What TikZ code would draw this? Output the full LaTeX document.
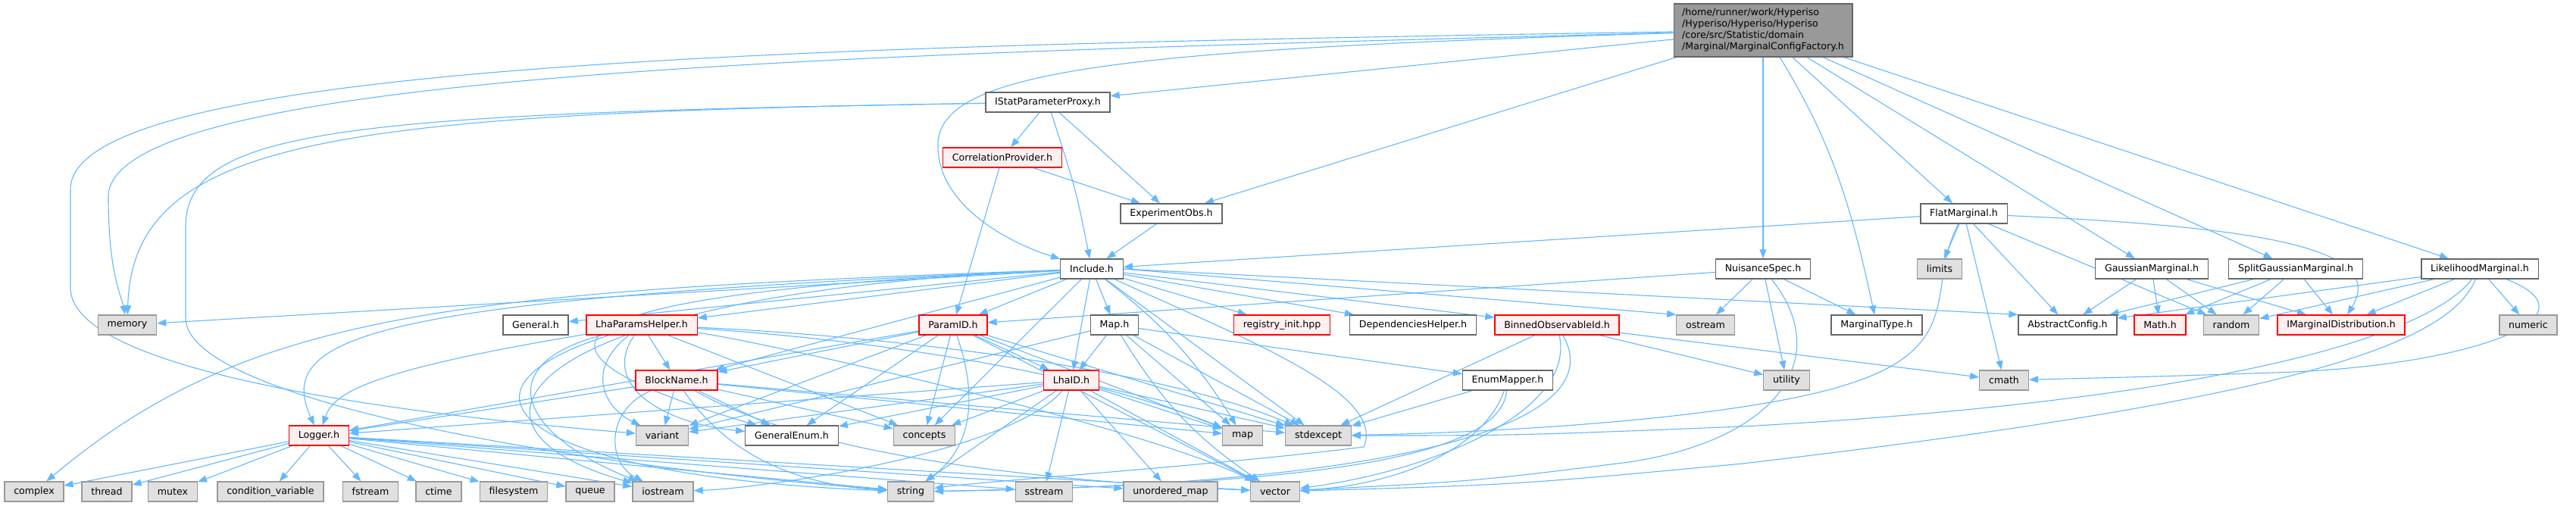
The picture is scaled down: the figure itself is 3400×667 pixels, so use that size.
\documentclass[tikz,border=0pt]{standalone}
\usepackage{fontspec}
\setmainfont{DejaVu Sans}
\usetikzlibrary{arrows.meta}
\pgfdeclarelayer{background}
\pgfsetlayers{background,main}
\definecolor{edgec}{HTML}{63B8FF}
\definecolor{wborder}{HTML}{666666}
\definecolor{gfill}{HTML}{E0E0E0}
\definecolor{gborder}{HTML}{999999}
\definecolor{rfill}{HTML}{FFF0F0}
\definecolor{rborder}{HTML}{FF0000}
\definecolor{tfill}{HTML}{999999}
\tikzset{
  base/.style={rectangle, line width=1.3pt, inner xsep=12.3pt, inner ysep=2pt, minimum height=26pt, font=\fontsize{12.6}{15}\selectfont, text=black},
  wn/.style={base, draw=wborder, fill=white},
  gn/.style={base, draw=gborder, fill=gfill},
  rn/.style={base, draw=rborder, fill=rfill},
  topn/.style={base, draw=wborder, fill=tfill, align=left, minimum height=70pt, inner xsep=11pt},
  e/.style={draw=edgec, line width=1.1pt, -{Triangle[length=12pt,width=9pt]}}
}
\begin{document}
\begin{tikzpicture}[x=1pt,y=-1pt]
\useasboundingbox (0,0) rectangle (3400,667);
% nodes
\node[topn] (mcf) at (2327,40) {/home/runner/work/Hyperiso\\/Hyperiso/Hyperiso/Hyperiso\\/core/src/Statistic/domain\\/Marginal/MarginalConfigFactory.h};
\node[wn] (ispp) at (1383,135) {IStatParameterProxy.h};
\node[rn] (corr) at (1323,208) {CorrelationProvider.h};
\node[wn] (expobs) at (1546,282) {ExperimentObs.h};
\node[wn] (flat) at (2592,282) {FlatMarginal.h};
\node[wn] (include) at (1441,355) {Include.h};
\node[wn] (nuis) at (2327,355) {NuisanceSpec.h};
\node[gn] (limits) at (2560,355) {limits};
\node[wn] (gauss) at (2840,355) {GaussianMarginal.h};
\node[wn] (split) at (3030,355) {SplitGaussianMarginal.h};
\node[wn] (lik) at (3273,355) {LikelihoodMarginal.h};
\node[gn] (memory) at (168,429) {memory};
\node[wn] (general) at (707,429) {General.h};
\node[rn] (lph) at (847,429) {LhaParamsHelper.h};
\node[rn] (paramid) at (1258,429) {ParamID.h};
\node[wn] (maph) at (1471,429) {Map.h};
\node[rn] (registry) at (1692,429) {registry\_init.hpp};
\node[wn] (dephelper) at (1865,429) {DependenciesHelper.h};
\node[rn] (binned) at (2055,429) {BinnedObservableId.h};
\node[gn] (ostream) at (2251,429) {ostream};
\node[wn] (mtype) at (2477,429) {MarginalType.h};
\node[wn] (abscfg) at (2729,429) {AbstractConfig.h};
\node[rn] (mathh) at (2851,429) {Math.h};
\node[gn] (random) at (2945,429) {random};
\node[rn] (imarg) at (3090,429) {IMarginalDistribution.h};
\node[gn] (numeric) at (3337,429) {numeric};
\node[rn] (blockname) at (893,502) {BlockName.h};
\node[rn] (lhaid) at (1414,502) {LhaID.h};
\node[wn] (enummapper) at (1990,502) {EnumMapper.h};
\node[gn] (utility) at (2358,502) {utility};
\node[gn] (cmath) at (2645,502) {cmath};
\node[rn] (logger) at (421,575) {Logger.h};
\node[gn] (variant) at (874,575) {variant};
\node[wn] (genenum) at (1045,575) {GeneralEnum.h};
\node[gn] (concepts) at (1220,575) {concepts};
\node[gn] (map) at (1640,575) {map};
\node[gn] (stdexcept) at (1740,575) {stdexcept};
\node[gn] (complex) at (45,649) {complex};
\node[gn] (thread) at (141,649) {thread};
\node[gn] (mutex) at (228,649) {mutex};
\node[gn] (condvar) at (357,649) {condition\_variable};
\node[gn] (fstream) at (489,649) {fstream};
\node[gn] (ctime) at (579,649) {ctime};
\node[gn] (filesystem) at (678,649) {filesystem};
\node[gn] (queue) at (779,649) {queue};
\node[gn] (iostream) at (875,649) {iostream};
\node[gn] (string) at (1202,649) {string};
\node[gn] (sstream) at (1378,649) {sstream};
\node[gn] (umap) at (1545,649) {unordered\_map};
\node[gn] (vector) at (1683,649) {vector};
\begin{pgfonlayer}{background}
\fill[white] (0,0) rectangle (3400,667);
% MarginalConfigFactory.h
\draw[e] (mcf) -- (ispp);
\draw[e] (mcf) -- (expobs);
\draw[e] (mcf) .. controls (1500,65) and (1240,90) .. (1238,190) .. controls (1236,270) and (1330,320) .. (include);
\draw[e] (mcf) -- (nuis);
\draw[e] (mcf) .. controls (2420,190) and (2445,280) .. (mtype);
\draw[e] (mcf) -- (flat);
\draw[e] (mcf) -- (gauss);
\draw[e] (mcf) -- (split);
\draw[e] (mcf) -- (lik);
\draw[e] (mcf) .. controls (1200,70) and (143,90) .. (143,260) .. controls (143,360) and (160,390) .. (memory);
\draw[e] (mcf) .. controls (1100,60) and (93,80) .. (93,250) -- (93,380) .. controls (93,480) and (450,540) .. (variant);
% IStatParameterProxy.h
\draw[e] (ispp) -- (corr);
\draw[e] (ispp) .. controls (1420,250) .. (include);
\draw[e] (ispp) -- (expobs);
\draw[e] (ispp) .. controls (450,150) and (175,180) .. (memory);
\draw[e] (ispp) .. controls (450,150) and (245,170) .. (245,300) -- (245,420) .. controls (245,520) and (700,610) .. (string);
% CorrelationProvider.h / ExperimentObs.h
\draw[e] (corr) -- (paramid);
\draw[e] (corr) -- (expobs);
\draw[e] (expobs) -- (include);
% FlatMarginal.h
\draw[e] (flat) -- (include);
\draw[e] (flat) -- (limits);
\draw[e] (flat) -- (cmath);
\draw[e] (flat) -- (abscfg);
\draw[e] (flat) -- (random);
\draw[e] (flat) .. controls (3000,300) and (3150,330) .. (imarg);
\draw[e] (flat) .. controls (2540,380) and (2600,460) .. (2430,510) .. controls (2280,555) and (1950,572) .. (stdexcept);
% NuisanceSpec.h
\draw[e] (nuis) -- (paramid);
\draw[e] (nuis) -- (ostream);
\draw[e] (nuis) -- (mtype);
\draw[e] (nuis) -- (utility);
\draw[e] (nuis) .. controls (2420,470) and (2350,580) .. (2150,610) .. controls (1950,635) .. (vector);
% Gaussian / SplitGaussian
\draw[e] (gauss) -- (abscfg);
\draw[e] (gauss) -- (mathh);
\draw[e] (gauss) -- (random);
\draw[e] (gauss) -- (imarg);
\draw[e] (split) -- (abscfg);
\draw[e] (split) -- (mathh);
\draw[e] (split) -- (random);
\draw[e] (split) -- (imarg);
% LikelihoodMarginal.h
\draw[e] (lik) -- (abscfg);
\draw[e] (lik) -- (random);
\draw[e] (lik) -- (imarg);
\draw[e] (lik) -- (numeric);
\draw[e] (lik) .. controls (3440,420) and (3250,485) .. (3000,492) .. controls (2850,497) .. (cmath);
\draw[e] (lik) .. controls (3230,460) and (3000,530) .. (2300,612) .. controls (2000,640) .. (vector);
\draw[e] (lik) .. controls (3200,450) and (2900,530) .. (2300,563) .. controls (2000,575) .. (stdexcept);
% Include.h
\draw[e] (include) -- (memory);
\draw[e] (include) .. controls (600,385) and (330,410) .. (complex);
\draw[e] (include) .. controls (500,395) and (360,440) .. (logger);
\draw[e] (include) -- (general);
\draw[e] (include) -- (lph);
\draw[e] (include) -- (blockname);
\draw[e] (include) .. controls (700,385) and (560,560) .. (iostream);
\draw[e] (include) .. controls (750,385) and (620,450) .. (genenum);
\draw[e] (include) -- (paramid);
\draw[e] (include) -- (maph);
\draw[e] (include) -- (lhaid);
\draw[e] (include) -- (concepts);
\draw[e] (include) to[bend left=10] (map);
\draw[e] (include) -- (stdexcept);
\draw[e] (include) -- (registry);
\draw[e] (include) -- (dephelper);
\draw[e] (include) -- (binned);
\draw[e] (include.east) -- (ostream.north west);
\draw[e] (include.east) -- (abscfg.north west);
\draw[e] (include) .. controls (1650,450) and (1830,520) .. (1800,590) .. controls (1600,615) and (1300,635) .. (string);
% LhaParamsHelper.h
\draw[e] (lph) .. controls (480,490) and (440,520) .. (logger);
\draw[e] (lph) -- (blockname);
\draw[e] (lph) .. controls (770,490) and (800,540) .. (variant);
\draw[e] (lph) .. controls (790,510) and (880,560) .. (genenum);
\draw[e] (lph) -- (concepts);
\draw[e] (lph) .. controls (650,480) and (680,570) .. (iostream);
\draw[e] (lph) .. controls (560,520) and (700,630) .. (string);
\draw[e] (lph) .. controls (1100,445) and (1400,480) .. (map);
\draw[e] (lph) .. controls (1100,440) and (1500,475) .. (stdexcept);
\draw[e] (lph) .. controls (1000,450) and (1500,560) .. (vector);
% BlockName.h
\draw[e] (blockname) -- (logger);
\draw[e] (blockname) -- (variant);
\draw[e] (blockname) -- (genenum);
\draw[e] (blockname) -- (concepts);
\draw[e] (blockname) -- (map);
\draw[e] (blockname) -- (stdexcept);
\draw[e] (blockname) .. controls (800,540) and (800,610) .. (iostream);
\draw[e] (blockname) .. controls (960,600) and (1050,640) .. (string);
\draw[e] (blockname) .. controls (1100,620) and (1500,640) .. (vector);
% ParamID.h
\draw[e] (paramid) -- (blockname);
\draw[e] (paramid) -- (lhaid);
\draw[e] (paramid) -- (logger);
\draw[e] (paramid) -- (variant);
\draw[e] (paramid) -- (genenum);
\draw[e] (paramid) -- (concepts);
\draw[e] (paramid) .. controls (1290,520) and (1285,590) .. (string);
\draw[e] (paramid) -- (map);
\draw[e] (paramid) -- (stdexcept);
\draw[e] (paramid) -- (vector);
% Map.h
\draw[e] (maph) -- (lhaid);
\draw[e] (maph) -- (map);
\draw[e] (maph) -- (stdexcept);
\draw[e] (maph) to[bend right=12] (vector);
\draw[e] (maph) -- (variant);
\draw[e] (maph) -- (enummapper);
% LhaID.h
\draw[e] (lhaid) -- (logger);
\draw[e] (lhaid) -- (variant);
\draw[e] (lhaid) -- (genenum);
\draw[e] (lhaid) -- (concepts);
\draw[e] (lhaid) -- (map);
\draw[e] (lhaid) -- (stdexcept);
\draw[e] (lhaid) -- (string);
\draw[e] (lhaid) -- (vector);
\draw[e] (lhaid) .. controls (1330,600) and (1000,645) .. (iostream);
\draw[e] (lhaid) -- (sstream);
\draw[e] (lhaid) -- (umap);
% Logger.h
\draw[e] (logger) -- (complex);
\draw[e] (logger) -- (thread);
\draw[e] (logger) -- (mutex);
\draw[e] (logger) -- (condvar);
\draw[e] (logger) -- (fstream);
\draw[e] (logger) -- (ctime);
\draw[e] (logger) -- (filesystem);
\draw[e] (logger) -- (queue);
\draw[e] (logger) -- (iostream);
\draw[e] (logger) -- (string);
\draw[e] (logger) -- (sstream);
\draw[e] (logger) -- (umap);
\draw[e] (logger) -- (vector);
% BinnedObservableId.h
\draw[e] (binned) -- (stdexcept);
\draw[e] (binned) -- (utility);
\draw[e] (binned) -- (cmath);
\draw[e] (binned) .. controls (2080,540) and (1900,620) .. (vector);
\draw[e] (binned) .. controls (2130,560) and (1850,640) .. (string);
% EnumMapper.h
\draw[e] (enummapper) -- (stdexcept);
\draw[e] (enummapper) .. controls (1960,590) and (1850,640) .. (vector);
\draw[e] (enummapper) .. controls (1980,610) and (1700,640) .. (string);
\end{pgfonlayer}
\end{tikzpicture}
\end{document}
